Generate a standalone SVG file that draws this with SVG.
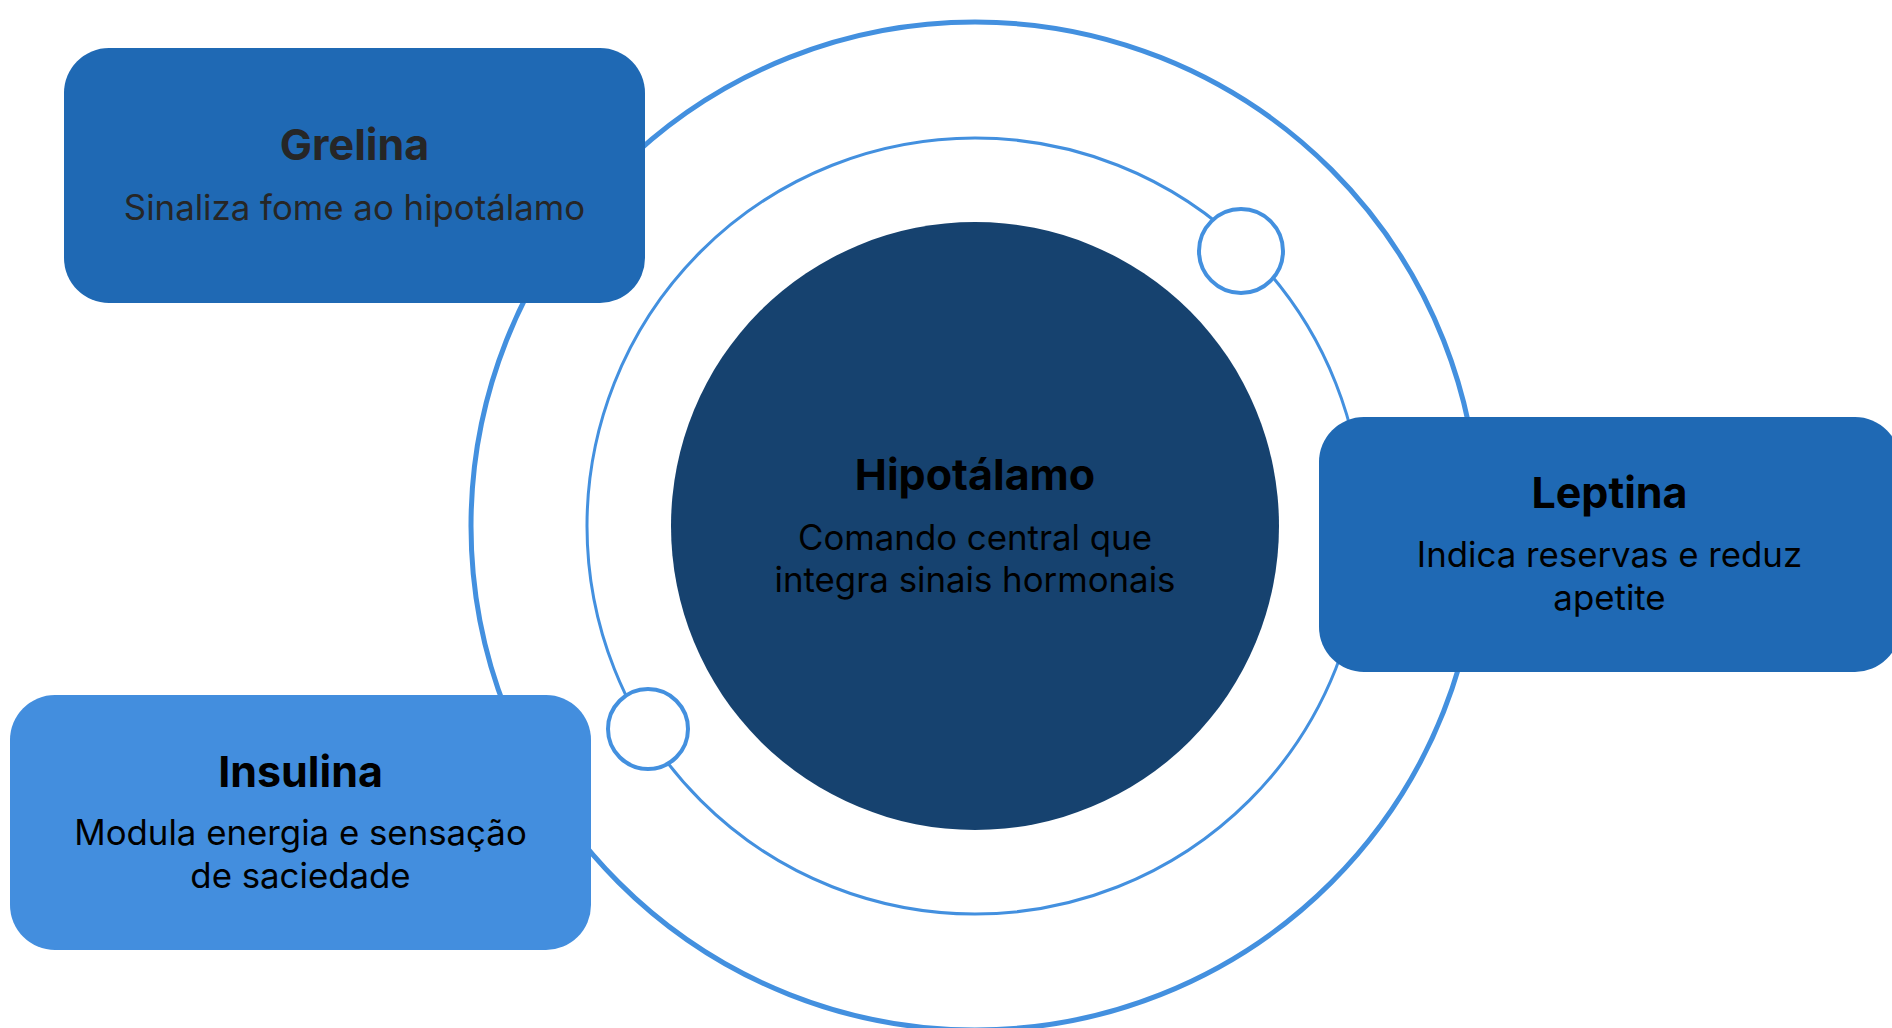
<svg xmlns="http://www.w3.org/2000/svg" width="1892" height="1028" viewBox="0 0 1892 1028">
<style>
.ring{fill:none;stroke:#4390DF}
.title{font-family:Inter,"Liberation Sans",sans-serif;font-weight:700;font-size:43px;text-anchor:middle;fill:#000}
.sub{font-family:Inter,"Liberation Sans",sans-serif;font-weight:400;font-size:34.8px;text-anchor:middle;fill:#000}
.box{fill:#1F69B4}
.dot{fill:#fff;stroke:#4390DF;stroke-width:4}
</style>
<rect width="1892" height="1028" fill="#fff"/>
<g id="connectors">
<circle class="ring" cx="975" cy="526" r="504" stroke-width="5"/>
<circle class="ring" cx="975" cy="526" r="388" stroke-width="3"/>
<circle class="dot" cx="1241" cy="251" r="42"/>
<circle class="dot" cx="648" cy="729" r="40"/>
</g>
<g id="hipotalamo">
<circle cx="975" cy="526" r="304" fill="#16426F"/>
<text class="title" x="975" y="490">Hipotálamo</text>
<text class="sub" x="975" y="550">Comando central que</text>
<text class="sub" x="975" y="592">integra sinais hormonais</text>
</g>
<g id="grelina">
<rect class="box" x="64" y="48" width="581" height="255" rx="45"/>
<text class="title" x="354.5" y="160" style="fill:#262626">Grelina</text>
<text class="sub" x="354.5" y="220" style="fill:#262626">Sinaliza fome ao hipotálamo</text>
</g>
<g id="leptina">
<rect class="box" x="1319" y="417" width="581" height="255" rx="45"/>
<text class="title" x="1609.5" y="508">Leptina</text>
<text class="sub" x="1609.5" y="567">Indica reservas e reduz</text>
<text class="sub" x="1609.5" y="610">apetite</text>
</g>
<g id="insulina">
<rect x="10" y="695" width="581" height="255" rx="45" fill="#438EDE"/>
<text class="title" x="300.5" y="787">Insulina</text>
<text class="sub" x="300.5" y="845">Modula energia e sensação</text>
<text class="sub" x="300.5" y="888">de saciedade</text>
</g>
</svg>
